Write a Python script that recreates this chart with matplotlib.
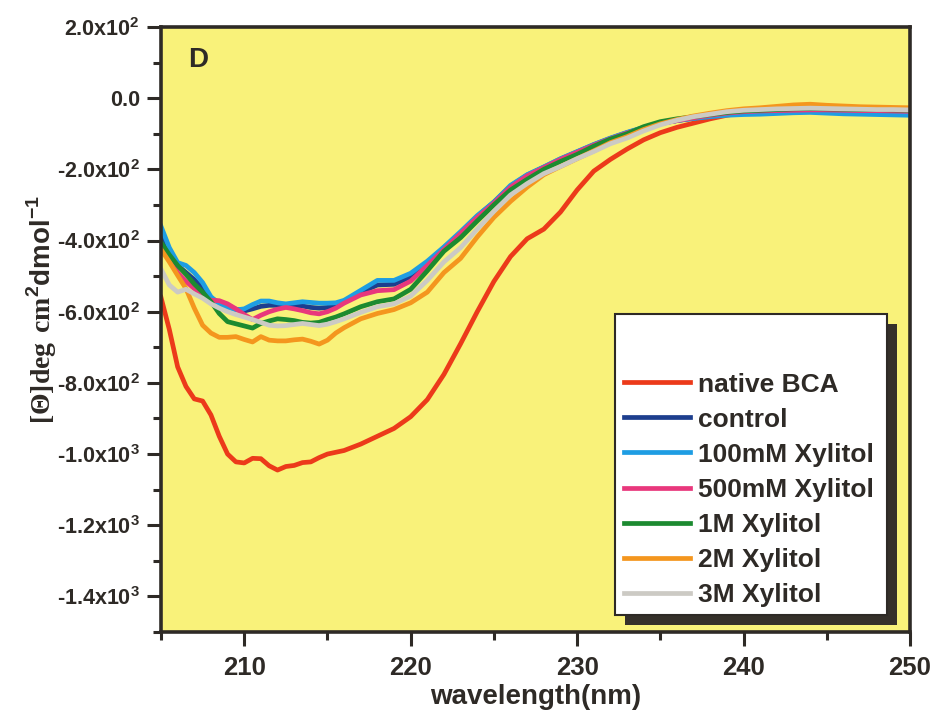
import numpy as np
import matplotlib
matplotlib.use('Agg')
import matplotlib.pyplot as plt
from matplotlib.patches import Rectangle
from matplotlib.ticker import FixedLocator, MultipleLocator

plt.rcParams['font.family'] = ['Liberation Sans', 'DejaVu Sans']
plt.rcParams['font.weight'] = 'bold'
plt.rcParams['mathtext.fontset'] = 'custom'
plt.rcParams['mathtext.rm'] = 'Liberation Sans:bold'
plt.rcParams['mathtext.bf'] = 'Liberation Sans:bold'
plt.rcParams['mathtext.sf'] = 'Liberation Serif:bold'

# wavelength grid (nm)
wl = [205, 205.5, 206, 206.5, 207, 207.5, 208, 208.5, 209, 209.5, 210, 210.5,
      211, 211.5, 212, 212.5, 213, 213.5, 214, 214.5, 215, 215.5, 216,
      217, 218, 219, 220, 221, 222, 223, 224, 225, 226, 227, 228, 229, 230,
      231, 232, 233, 234, 235, 236, 237, 238, 239, 240, 241, 242, 243, 244,
      245, 246, 247, 248, 249, 250]

native_bca = [-560, -650, -755, -810, -845, -851, -890, -950, -1000, -1022, -1025, -1012,
              -1013, -1033, -1045, -1035, -1032, -1024, -1022, -1010, -1000, -995, -990,
              -972, -950, -928, -895, -847, -776, -690, -600, -515, -445, -395, -368, -320, -258,
              -205, -172, -143, -117, -97, -82, -70, -58, -48, -40, -37, -35, -33, -30,
              -30, -32, -33, -33, -34, -35]
control = [-380, -430, -470, -490, -510, -535, -562, -574, -583, -593, -598, -592,
           -585, -582, -582, -582, -582, -584, -588, -590, -588, -580, -570,
           -545, -525, -523, -502, -462, -420, -378, -332, -292, -247, -216, -194, -171, -151,
           -131, -113, -97, -83, -71, -63, -56, -50, -45, -42, -40, -39, -38, -37,
           -38, -39, -40, -41, -42, -42]
xyl_100mM = [-360, -420, -462, -470, -490, -518, -558, -578, -588, -595, -592, -580,
             -570, -570, -575, -578, -575, -572, -574, -576, -576, -575, -568,
             -540, -512, -512, -492, -458, -418, -375, -330, -292, -245, -215, -193, -170, -150,
             -130, -112, -96, -82, -70, -63, -57, -52, -48, -46, -45, -43, -41, -40,
             -42, -44, -45, -46, -47, -48]
xyl_500mM = [-420, -455, -490, -515, -535, -555, -568, -569, -578, -592, -608, -622,
             -610, -600, -593, -588, -592, -597, -603, -606, -600, -590, -576,
             -553, -541, -538, -514, -470, -425, -380, -335, -295, -250, -218, -195, -172, -152,
             -132, -114, -98, -84, -72, -63, -55, -48, -42, -38, -36, -35, -34, -33,
             -33, -34, -35, -35, -36, -37]
xyl_1M = [-405, -440, -470, -495, -522, -545, -572, -605, -628, -634, -640, -646,
          -633, -626, -620, -622, -625, -630, -632, -630, -622, -615, -606,
          -586, -572, -564, -537, -485, -430, -392, -345, -300, -258, -228, -200, -178, -158,
          -135, -115, -100, -80, -66, -58, -52, -46, -40, -36, -34, -32, -30, -29,
          -30, -31, -32, -32, -33, -34]
xyl_2M = [-425, -460, -498, -535, -590, -638, -660, -672, -672, -670, -678, -685,
          -670, -680, -682, -682, -679, -677, -683, -691, -680, -660, -645,
          -620, -605, -594, -575, -545, -490, -450, -390, -335, -290, -250, -215, -192, -170,
          -148, -125, -108, -88, -72, -60, -50, -42, -35, -30, -27, -23, -19, -17,
          -20, -22, -24, -25, -26, -27]
xyl_3M = [-480, -525, -545, -537, -550, -562, -578, -590, -600, -608, -615, -622,
          -630, -638, -640, -639, -636, -633, -636, -639, -635, -628, -620,
          -602, -586, -578, -556, -512, -460, -420, -368, -318, -272, -240, -212, -192, -170,
          -150, -128, -112, -92, -75, -62, -52, -45, -38, -34, -32, -30, -29, -28,
          -29, -30, -31, -32, -32, -33]

labels = ['native BCA', 'control', '100mM Xylitol', '500mM Xylitol',
          '1M Xylitol', '2M Xylitol', '3M Xylitol']
series = [native_bca, control, xyl_100mM, xyl_500mM, xyl_1M, xyl_2M, xyl_3M]
colors = ['#EC3A1A', '#1D3E8E', '#1E9DE3', '#E8377C', '#1C8A30', '#F4961E', '#CCCAC4']

y_ticks = [200, 0, -200, -400, -600, -800, -1000, -1200, -1400]
y_ticklabels = ['2.0x10$^2$', '0.0', '-2.0x10$^2$', '-4.0x10$^2$', '-6.0x10$^2$',
                '-8.0x10$^2$', '-1.0x10$^3$', '-1.2x10$^3$', '-1.4x10$^3$']
x_ticks = [210, 220, 230, 240, 250]

dark = '#2E2A26'

fig = plt.figure(figsize=(9.33, 7.14), dpi=100)
ax = fig.add_axes([161/933, 1 - 632/714, (910 - 161)/933, (632 - 27)/714])
ax.set_facecolor('#F9F27A')

for vals, lab, col in zip(series, labels, colors):
    ax.plot(wl, vals, color=col, lw=3.4, label=lab, solid_joinstyle='round')

ax.set_xlim(205, 250)
ax.set_ylim(-1500, 200)
ax.xaxis.set_major_locator(FixedLocator(x_ticks))
ax.xaxis.set_minor_locator(MultipleLocator(5))
ax.yaxis.set_major_locator(FixedLocator(y_ticks))
ax.yaxis.set_minor_locator(MultipleLocator(100))
ax.set_xticklabels([str(t) for t in x_ticks], fontsize=18.5, fontweight='bold', color=dark)
ax.set_yticklabels(y_ticklabels, fontsize=15.5, fontweight='bold', color=dark)
ax.tick_params(which='major', direction='out', length=10, width=2.2, color=dark, pad=5)
ax.tick_params(which='minor', direction='out', length=5.5, width=2.2, color=dark)
ax.tick_params(axis='x', which='major', pad=7)
for sp in ax.spines.values():
    sp.set_linewidth(2.6)
    sp.set_color(dark)

ax.set_xlabel('wavelength(nm)', fontsize=20, fontweight='bold', color=dark, labelpad=3)
fig.text(42/933, 1 - 310/714, r'$\mathsf{[\Theta]deg\ cm}^{2}\mathrm{dmol}^{-1}$',
         rotation=90, ha='center', va='center', fontsize=20, color=dark)

ax.text(0.049, 0.945, 'D', transform=ax.transAxes, fontsize=20, fontweight='bold',
        color=dark, ha='center', va='center')

# legend box with drop shadow
def px(x, y):
    return ((x - 161) / 749, (632 - y) / 605)

x0, y0 = px(625, 625)
x1, y1 = px(897, 324)
ax.add_patch(Rectangle((x0, y0), x1 - x0, y1 - y0, transform=ax.transAxes,
                       facecolor='#35302A', edgecolor='none', zorder=5))
x0, y0 = px(615, 615)
x1, y1 = px(887, 314)
ax.add_patch(Rectangle((x0, y0), x1 - x0, y1 - y0, transform=ax.transAxes,
                       facecolor='white', edgecolor=dark, lw=1.5, zorder=6))

leg = ax.legend(loc='lower left', bbox_to_anchor=px(624, 607), frameon=False,
                prop={'size': 19, 'weight': 'bold'}, handlelength=2.5,
                handletextpad=0.3, labelspacing=0.42, borderpad=0, borderaxespad=0)
leg.set_zorder(7)
for t in leg.get_texts():
    t.set_color(dark)

fig.savefig('out.png', dpi=100, facecolor='white')
